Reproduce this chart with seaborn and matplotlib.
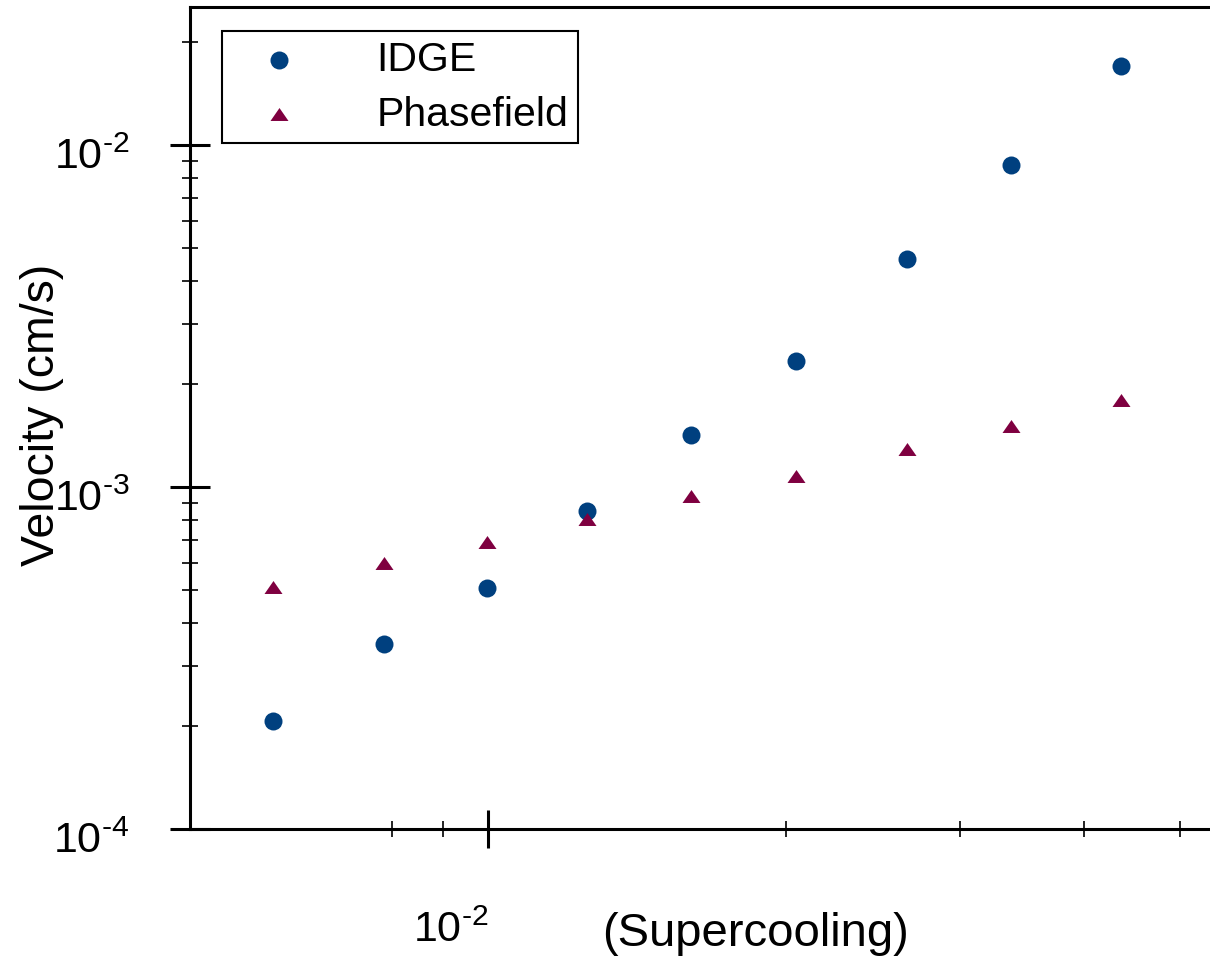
import numpy as np
import pandas as pd
import matplotlib
matplotlib.use('Agg')
import matplotlib.pyplot as plt
import matplotlib.transforms as mtransforms
from matplotlib.path import Path
from matplotlib.ticker import FixedLocator, NullFormatter
import seaborn as sns

# values
supercooling = [0.00607, 0.00785, 0.00998, 0.01259, 0.01603, 0.02047, 0.02650, 0.03376, 0.04360]
velocity_idge = [2.07e-4, 3.47e-4, 5.06e-4, 8.48e-4, 1.42e-3, 2.34e-3, 4.65e-3, 8.75e-3, 1.70e-2]
velocity_phasefield = [5.09e-4, 5.98e-4, 6.89e-4, 8.04e-4, 9.38e-4, 1.08e-3, 1.29e-3, 1.51e-3, 1.79e-3]
methods = ['IDGE', 'Phasefield']
colors = {'IDGE': '#00407F', 'Phasefield': '#7F0040'}
xtick_labels = [r'$\mathregular{10^{\text{-}2}}$']
ytick_labels = [r'$\mathregular{10^{\text{-}4}}$', r'$\mathregular{10^{\text{-}3}}$',
                r'$\mathregular{10^{\text{-}2}}$']

df = pd.DataFrame({
    'Supercooling': supercooling * 2,
    'Velocity': velocity_idge + velocity_phasefield,
    'Method': [methods[0]] * len(supercooling) + [methods[1]] * len(supercooling),
})

sns.set_style('ticks')
plt.rcParams['font.family'] = ['Liberation Sans', 'DejaVu Sans']
plt.rcParams['mathtext.fontset'] = 'custom'
plt.rcParams['mathtext.rm'] = 'Liberation Sans'
plt.rcParams['mathtext.it'] = 'Liberation Sans:italic'
plt.rcParams['mathtext.bf'] = 'Liberation Sans:bold'
plt.rcParams['axes.linewidth'] = 2.2
for key in ['text.color', 'axes.labelcolor', 'axes.edgecolor', 'xtick.color', 'ytick.color']:
    plt.rcParams[key] = 'black'

fig = plt.figure(figsize=(12.1, 9.79), dpi=100)
ax = fig.add_axes([190 / 1210, 1 - 830 / 979, 1020 / 1210, 822 / 979])

# flat triangle like the original
tri = Path([(-1, -0.72), (1, -0.72), (0, 0.72), (-1, -0.72)],
           [Path.MOVETO, Path.LINETO, Path.LINETO, Path.CLOSEPOLY])
markers = {'IDGE': 'o', 'Phasefield': tri}

for m in methods:
    sub = df[df['Method'] == m]
    sns.scatterplot(data=sub, x='Supercooling', y='Velocity', ax=ax,
                    marker=markers[m], color=colors[m], s=168,
                    linewidth=0, label=m)

ax.set_xscale('log')
ax.set_yscale('log')
ax.set_xlim(0.005, 0.0536)
ax.set_ylim(1e-4, 0.0253)

ax.spines['right'].set_visible(False)

ax.xaxis.set_major_locator(FixedLocator([0.01]))
ax.xaxis.set_minor_locator(FixedLocator([0.008, 0.009, 0.02, 0.03, 0.04, 0.05]))
ax.xaxis.set_minor_formatter(NullFormatter())
ax.set_xticklabels(xtick_labels, ha='right')

ax.yaxis.set_major_locator(FixedLocator([1e-4, 1e-3, 1e-2]))
ax.set_yticklabels(ytick_labels, va='center')
ax.yaxis.set_minor_formatter(NullFormatter())

ax.tick_params(axis='both', which='major', direction='inout', width=2.2,
               labelsize=31, color='black', top=False, right=False)
ax.tick_params(axis='y', which='major', length=29, pad=29)
ax.tick_params(axis='x', which='major', length=28, pad=44)
ax.tick_params(axis='both', which='minor', direction='inout', width=1.2,
               length=11.5, color='black', top=False, right=False)

# the original sits the y tick labels a little below their ticks
shift = mtransforms.ScaledTranslation(0, -0.12, fig.dpi_scale_trans)
for t in ax.yaxis.get_major_ticks():
    t.label1.set_transform(t.label1.get_transform() + shift)

ax.set_xlabel('(Supercooling)', fontsize=34)
ax.set_ylabel('Velocity (cm/s)', fontsize=33.5)
ax.xaxis.set_label_coords(0.554, -0.0998)
ax.yaxis.set_label_coords(-0.1235, 0.505)

leg = ax.legend(loc='upper left', bbox_to_anchor=(0.0314, 0.9708), borderaxespad=0,
                fontsize=29.5, frameon=True, fancybox=False, framealpha=1,
                edgecolor='black', borderpad=0.23, handlelength=2.33,
                handletextpad=1.21, labelspacing=0.41, scatterpoints=1)
leg.get_frame().set_linewidth(1.5)

fig.savefig('out.png', dpi=100)
